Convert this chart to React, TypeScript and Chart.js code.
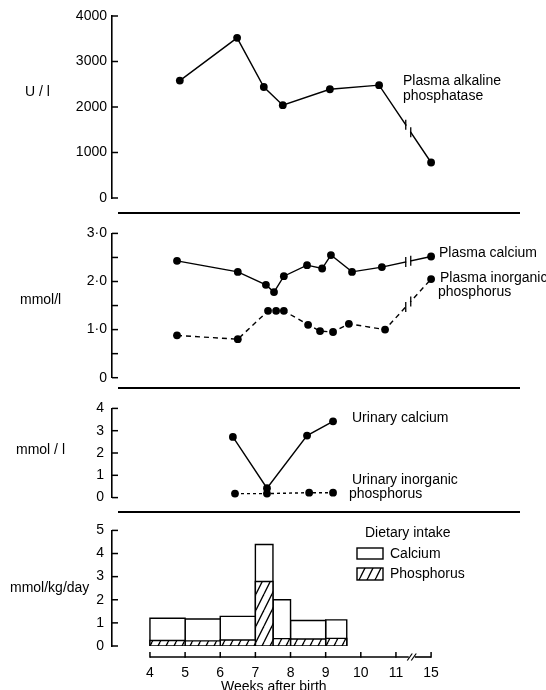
import React, { useEffect, useRef } from "react";
import { Chart, registerables } from "chart.js";

Chart.register(...registerables);

const FONT = "'Liberation Sans', Arial, Helvetica, sans-serif";
const W = 546;

// ---- shared x axis: weeks after birth (week 15 sits after a break, at position 12)
const xTickValues = [4, 5, 6, 7, 8, 9, 10, 11, 12];
const xTickLabels = ["4", "5", "6", "7", "8", "9", "10", "11", "15"];
const X_MIN = 2.92;
const X_MAX = 14.53;
const LINE_BREAK_AT = 11.35;
const AXIS_BREAK_AT = 11.45;

// ---- panel 1: plasma alkaline phosphatase (U/l)
const alpWeeks = [4.85, 6.48, 7.24, 7.78, 9.12, 10.52, 12];
const alpValues = [2580, 3520, 2440, 2040, 2390, 2480, 780];

// ---- panel 2: plasma calcium / inorganic phosphorus (mmol/l)
const caWeeks = [4.77, 6.5, 7.3, 7.53, 7.81, 8.47, 8.9, 9.15, 9.75, 10.6, 12];
const caValues = [2.43, 2.2, 1.93, 1.78, 2.11, 2.34, 2.27, 2.55, 2.2, 2.3, 2.52];
const piWeeks = [4.77, 6.5, 7.36, 7.59, 7.81, 8.5, 8.84, 9.21, 9.66, 10.69, 12];
const piValues = [0.88, 0.8, 1.39, 1.39, 1.39, 1.1, 0.97, 0.95, 1.12, 1.0, 2.05];

// ---- panel 3: urinary calcium / inorganic phosphorus (mmol/l)
const uCaWeeks = [6.36, 7.33, 8.47, 9.21];
const uCaValues = [2.72, 0.42, 2.78, 3.42];
const uPWeeks = [6.42, 7.33, 8.53, 9.21];
const uPValues = [0.18, 0.18, 0.22, 0.22];

// ---- panel 4: dietary intake (mmol/kg/day), histogram bins
const binEdges = [4, 5, 6, 7, 7.5, 8, 9, 9.6];
const calciumIntake = [1.2, 1.17, 1.28, 4.39, 2.0, 1.1, 1.13];
const phosphorusIntake = [0.24, 0.22, 0.26, 2.79, 0.32, 0.3, 0.33];

const pts = (xs: number[], ys: number[]) => xs.map((x, i) => ({ x, y: ys[i] }));
const rect = (x0: number, x1: number, h: number) => [
  { x: x0, y: 0 },
  { x: x0, y: h },
  { x: x1, y: h },
  { x: x1, y: 0 },
];

type TextItem = { t: string; x: number; y: number; size?: number };
type Decor = {
  texts: TextItem[];
  divider?: number;
  yTickLen: number;
  breaks?: { ds: number; at: number }[];
  xAxis?: boolean;
  legend?: { top: number; hatch: CanvasPattern | string };
};

function decorPlugin(d: Decor) {
  return {
    id: "decor",
    afterDraw(chart: any) {
      const ctx: CanvasRenderingContext2D = chart.ctx;
      const area = chart.chartArea;
      const ys = chart.scales.y;
      const xs = chart.scales.x;
      const line = (a: number, b: number, c: number, e: number) => {
        ctx.beginPath();
        ctx.moveTo(a, b);
        ctx.lineTo(c, e);
        ctx.stroke();
      };
      ctx.save();
      ctx.strokeStyle = "#000";
      ctx.fillStyle = "#000";
      ctx.lineCap = "butt";
      // inward y ticks
      ctx.lineWidth = 1.5;
      ys.ticks.forEach((t: any) => {
        const y = ys.getPixelForValue(t.value);
        line(area.left, y, area.left + d.yTickLen, y);
      });
      // divider between panels
      if (d.divider != null) {
        ctx.lineWidth = 2.2;
        line(area.left + 6, d.divider, area.right, d.divider);
      }
      // break marks on lines
      (d.breaks || []).forEach((b) => {
        const el = chart.getDatasetMeta(b.ds).data;
        const px = xs.getPixelForValue(b.at);
        for (let i = 0; i < el.length - 1; i++) {
          const a = el[i];
          const c = el[i + 1];
          if (a.x <= px && c.x >= px) {
            const s = (c.y - a.y) / (c.x - a.x);
            const py = a.y + s * (px - a.x);
            ctx.strokeStyle = "#fff";
            ctx.lineWidth = 4;
            line(px - 2, py - 2 * s, px + 2, py + 2 * s);
            ctx.strokeStyle = "#000";
            ctx.lineWidth = 1.3;
            [-2.5, 2.5].forEach((o) => {
              const cy = py + o * s;
              line(px + o, cy - 5, px + o, cy + 5);
            });
            break;
          }
        }
      });
      // x axis (bottom panel only)
      if (d.xAxis) {
        const y = area.bottom + 11;
        const x0 = xs.getPixelForValue(xTickValues[0]);
        const x1 = xs.getPixelForValue(xTickValues[xTickValues.length - 1]);
        const xb = xs.getPixelForValue(AXIS_BREAK_AT);
        ctx.lineWidth = 1.6;
        line(x0, y, xb - 3, y);
        line(xb + 3, y, x1, y);
        ctx.lineWidth = 1.2;
        [-2, 2].forEach((o) => line(xb + o - 2.5, y + 3.5, xb + o + 2.5, y - 3.5));
        ctx.lineWidth = 1.5;
        xTickValues.forEach((v) => {
          const x = xs.getPixelForValue(v);
          line(x, y + 0.8, x, y - 5);
        });
      }
      // legend
      if (d.legend) {
        const t0 = d.legend.top;
        ctx.lineWidth = 1.4;
        ctx.fillStyle = "#fff";
        ctx.fillRect(357, t0 + 15, 26, 11);
        ctx.strokeRect(357, t0 + 15, 26, 11);
        ctx.fillStyle = d.legend.hatch as any;
        ctx.fillRect(357, t0 + 35, 26, 12);
        ctx.strokeRect(357, t0 + 35, 26, 12);
        ctx.fillStyle = "#000";
      }
      // texts
      ctx.textBaseline = "middle";
      ctx.textAlign = "left";
      d.texts.forEach((tx) => {
        ctx.font = `${tx.size || 14}px ${FONT}`;
        ctx.fillText(tx.t, tx.x, tx.y);
      });
      ctx.restore();
    },
  };
}

function yScale(max: number, step: number, fmt: (v: number) => string, pad: number) {
  return {
    type: "linear",
    min: 0,
    max,
    afterFit: (s: any) => {
      s.width = 112;
    },
    border: { display: true, color: "#000", width: 1.6 },
    grid: { display: true, drawOnChartArea: false, drawTicks: false },
    ticks: {
      stepSize: step,
      autoSkip: false,
      color: "#000",
      padding: pad,
      font: { family: FONT, size: 14 },
      callback: (v: number) => fmt(v),
    },
  };
}

const hiddenX = { type: "linear", min: X_MIN, max: X_MAX, display: false };

function baseOptions(padTop: number, padBottom: number, y: any, x: any) {
  return {
    responsive: false,
    animation: false,
    events: [],
    layout: { padding: { top: padTop, bottom: padBottom, left: 0, right: 26 } },
    plugins: { legend: { display: false }, tooltip: { enabled: false } },
    scales: { x, y },
  };
}

const lineDs = (data: any[], dash: number[] = []) => ({
  data,
  borderColor: "#000",
  borderWidth: 1.4,
  borderDash: dash,
  pointRadius: 3.9,
  pointBackgroundColor: "#000",
  pointBorderWidth: 0,
  fill: false,
  tension: 0,
  clip: false,
});

function makeHatch(): CanvasPattern | string {
  const c = document.createElement("canvas");
  const w = 8;
  const h = 16;
  c.width = w;
  c.height = h;
  const g = c.getContext("2d");
  if (!g) return "#888";
  g.fillStyle = "#fff";
  g.fillRect(0, 0, w, h);
  g.strokeStyle = "#000";
  g.lineWidth = 1.3;
  [-w, 0, w].forEach((o) => {
    g.beginPath();
    g.moveTo(o, h);
    g.lineTo(o + w, 0);
    g.stroke();
  });
  return g.createPattern(c, "repeat") || "#888";
}

const PANELS = [
  { top: 0, height: 220 },
  { top: 220, height: 172 },
  { top: 392, height: 122 },
  { top: 514, height: 176 },
];

export default function App() {
  const refs = [
    useRef<HTMLCanvasElement>(null),
    useRef<HTMLCanvasElement>(null),
    useRef<HTMLCanvasElement>(null),
    useRef<HTMLCanvasElement>(null),
  ];

  useEffect(() => {
    const hatch = makeHatch();
    const charts: Chart[] = [];

    // Panel 1
    charts.push(
      new Chart(refs[0].current as HTMLCanvasElement, {
        type: "line",
        data: { datasets: [lineDs(pts(alpWeeks, alpValues))] as any },
        options: baseOptions(16, 22, yScale(4000, 1000, (v) => String(v), 5), hiddenX) as any,
        plugins: [
          decorPlugin({
            yTickLen: 6,
            divider: 213,
            breaks: [{ ds: 0, at: LINE_BREAK_AT }],
            texts: [
              { t: "U / l", x: 25, y: 92 },
              { t: "Plasma alkaline", x: 403, y: 81 },
              { t: "phosphatase", x: 403, y: 96 },
            ],
          }),
        ],
      })
    );

    // Panel 2
    const fmtDot = (v: number) =>
      Number.isInteger(v) ? (v === 0 ? "0" : v.toFixed(1).replace(".", "\u00b7")) : "";
    charts.push(
      new Chart(refs[1].current as HTMLCanvasElement, {
        type: "line",
        data: {
          datasets: [lineDs(pts(caWeeks, caValues)), lineDs(pts(piWeeks, piValues), [5, 4])] as any,
        },
        options: baseOptions(10.7, 14.3, yScale(3, 0.5, fmtDot, 5), hiddenX) as any,
        plugins: [
          decorPlugin({
            yTickLen: 6,
            divider: 168,
            breaks: [
              { ds: 0, at: LINE_BREAK_AT },
              { ds: 1, at: LINE_BREAK_AT },
            ],
            texts: [
              { t: "mmol/l", x: 20, y: 80 },
              { t: "Plasma calcium", x: 439, y: 33 },
              { t: "Plasma inorganic", x: 440, y: 58 },
              { t: "phosphorus", x: 438, y: 72 },
            ],
          }),
        ],
      })
    );

    // Panel 3
    charts.push(
      new Chart(refs[2].current as HTMLCanvasElement, {
        type: "line",
        data: {
          datasets: [lineDs(pts(uCaWeeks, uCaValues)), lineDs(pts(uPWeeks, uPValues), [3, 3])] as any,
        },
        options: baseOptions(11, 16, yScale(4, 1, (v) => String(v), 8), hiddenX) as any,
        plugins: [
          decorPlugin({
            yTickLen: 6,
            divider: 120,
            texts: [
              { t: "mmol / l", x: 16, y: 58 },
              { t: "Urinary calcium", x: 352, y: 26 },
              { t: "Urinary inorganic", x: 352, y: 88 },
              { t: "phosphorus", x: 349, y: 102 },
            ],
          }),
        ],
      })
    );

    // Panel 4
    const last = binEdges.length - 1;
    const caBars = calciumIntake.map((v, i) => ({
      data: rect(binEdges[i], binEdges[i + 1], v),
      borderColor: "#000",
      borderWidth: 1.4,
      backgroundColor: "#fff",
      fill: "origin",
      pointRadius: 0,
      tension: 0,
      order: 2,
    }));
    const pBars = phosphorusIntake.map((v, i) => ({
      data: rect(binEdges[i], binEdges[i + 1], v),
      borderColor: "#000",
      borderWidth: 1.4,
      backgroundColor: hatch,
      fill: "origin",
      pointRadius: 0,
      tension: 0,
      order: 1,
    }));
    const baseline = {
      data: [
        { x: binEdges[0], y: 0 },
        { x: binEdges[last], y: 0 },
      ],
      borderColor: "#000",
      borderWidth: 1.4,
      pointRadius: 0,
      fill: false,
      order: 0,
    };
    const xBottom = {
      type: "linear",
      min: X_MIN,
      max: X_MAX,
      position: "bottom",
      afterFit: (s: any) => {
        s.height = 44;
      },
      afterBuildTicks: (s: any) => {
        s.ticks = xTickValues.map((v) => ({ value: v }));
      },
      border: { display: false },
      grid: { display: true, drawOnChartArea: false, drawTicks: false },
      ticks: {
        autoSkip: false,
        maxRotation: 0,
        color: "#000",
        padding: 19,
        font: { family: FONT, size: 14 },
        callback: (_v: number, i: number) => xTickLabels[i],
      },
    };
    charts.push(
      new Chart(refs[3].current as HTMLCanvasElement, {
        type: "line",
        data: { datasets: [...caBars, ...pBars, baseline] as any },
        options: baseOptions(10, 0, yScale(5, 1, (v) => String(v), 8), xBottom) as any,
        plugins: [
          decorPlugin({
            yTickLen: 6,
            xAxis: true,
            legend: { top: 19, hatch },
            texts: [
              { t: "mmol/kg/day", x: 10, y: 74 },
              { t: "Dietary intake", x: 365, y: 19 },
              { t: "Calcium", x: 390, y: 40 },
              { t: "Phosphorus", x: 390, y: 60 },
              { t: "Weeks after birth", x: 221, y: 173 },
            ],
          }),
        ],
      })
    );

    return () => charts.forEach((c) => c.destroy());
  }, []);

  return (
    <div
      style={{
        position: "absolute",
        left: 0,
        top: 0,
        width: W,
        height: 690,
        overflow: "hidden",
        background: "#fff",
      }}
    >
      {PANELS.map((p, i) => (
        <canvas
          key={i}
          ref={refs[i]}
          width={W}
          height={p.height}
          style={{ position: "absolute", left: 0, top: p.top, width: W, height: p.height }}
        />
      ))}
    </div>
  );
}
